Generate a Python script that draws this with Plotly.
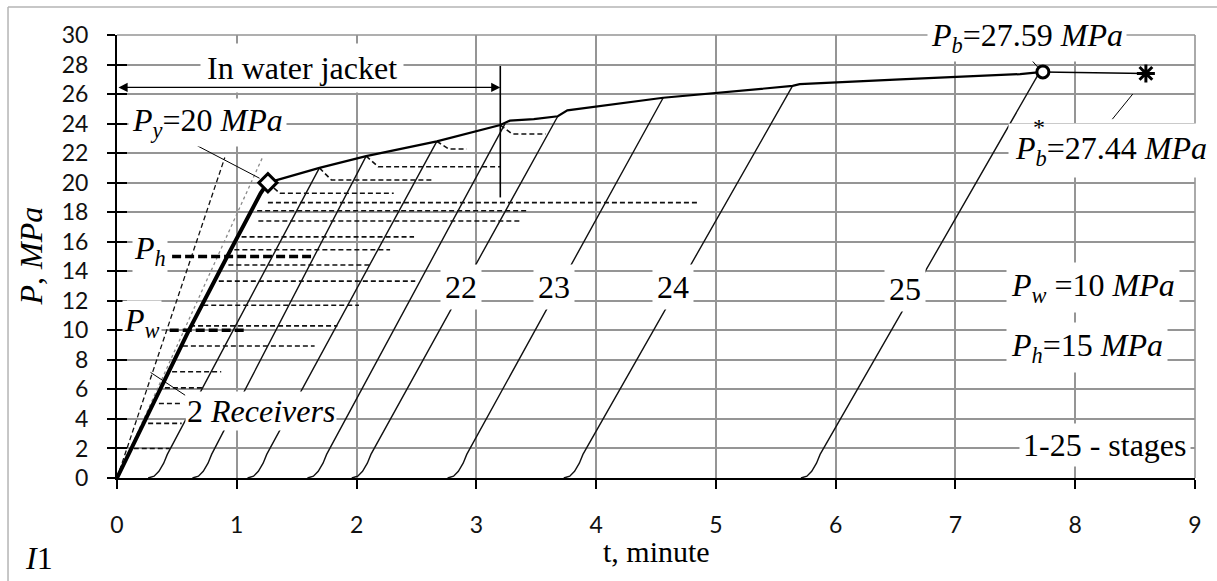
import plotly.graph_objects as go

# ---------------- data ----------------
# thick "2 receivers" line from origin to the yield point
thick_t = [0, 0.39, 0.60, 0.92, 1.20, 1.26]
thick_P = [0, 6.6, 10.0, 15.0, 19.3, 20.0]

# steep dashed and grey dotted guide lines from the origin
steep_t = [0, 0.90]
steep_P = [0, 21.7]
dotted_t = [0, 1.22]
dotted_P = [0, 21.8]

# upper envelope (stage tops) from P_y to P_b
env_t = [1.26, 1.69, 2.08, 2.67, 3.20, 3.28, 3.48, 3.68, 3.76, 4.56, 5.64, 5.70, 6.54, 7.54, 7.73]
env_P = [20.0, 21.0, 21.8, 22.8, 23.9, 24.2, 24.3, 24.5, 24.9, 25.75, 26.55, 26.67, 27.0, 27.35, 27.5]

# tail P_b -> P_b*
tail_t = [7.73, 8.59]
tail_P = [27.5, 27.4]

# stage curves: foot time at P=0 and end point on the envelope
stage_t0 = [0.26, 0.63, 1.09, 1.59, 1.96, 2.76, 3.73, 5.71]
stage_t1 = [1.69, 2.08, 2.67, 3.24, 3.68, 4.56, 5.64, 7.70]
stage_P1 = [21.0, 21.8, 22.8, 24.0, 24.5, 25.75, 26.55, 27.45]
# rounded foot of every stage curve (offsets)
foot_dt = [0, 0.05, 0.09, 0.13, 0.16]
foot_dP = [0, 0.12, 0.45, 1.0, 1.6]

stage_labels = ["22", "23", "24", "25"]
stage_label_t = [2.87, 3.65, 4.64, 6.58]
stage_label_P = [12.93, 12.93, 12.93, 12.8]

# thin dashed hold lines: level, start, end, start pressure (knee from the envelope)
dash_P = [2.0, 3.7, 5.05, 6.1, 7.2, 8.94, 10.3, 11.7, 13.33, 14.42, 15.46, 16.33,
          17.4, 18.1, 18.65, 19.28, 20.18, 21.08, 22.28, 23.3]
dash_t0 = [0.14, 0.26, 0.35, 0.40, 0.46, 0.55, 0.61, 0.72, 0.85, 0.93, 0.98, 1.04,
           1.18, 1.17, 1.26, 1.26, 1.69, 2.08, 2.67, 3.20]
dash_t1 = [0.44, 0.54, 0.54, 0.71, 0.87, 1.65, 1.84, 2.02, 2.49, 2.11, 2.28, 2.48,
           3.38, 3.44, 4.85, 2.31, 2.64, 3.20, 2.92, 3.58]
dash_P0 = [2.0, 3.7, 5.05, 6.1, 7.2, 8.94, 10.3, 11.7, 13.33, 14.42, 15.46, 16.33,
           17.4, 18.1, 18.65, 20.0, 21.0, 21.8, 22.8, 23.9]

# thick dashed P_w and P_h markers
Pw = 10.0
pw_t = [0.44, 1.07]
Ph = 15.0
ph_t = [0.46, 1.62]

# key points
Py_pt = (1.26, 20.0)
Pb_pt = (7.73, 27.5)
Pbs_pt = (8.59, 27.4)

# water jacket span
jacket_t = [0.0, 3.2]
jacket_P = 26.45
jacket_bar_P = [19.0, 27.9]

x_ticks = list(range(0, 10))
y_ticks = list(range(0, 31, 2))

# ---------------- figure ----------------
SERIF = "Liberation Serif"
fig = go.Figure()

def line(x, y, width=1.2, color="black", dash=None, yaxis="y"):
    fig.add_trace(go.Scatter(x=x, y=y, mode="lines", yaxis=yaxis,
                             line=dict(color=color, width=width, dash=dash),
                             hoverinfo="skip", showlegend=False))

# guide lines
line(steep_t, steep_P, 1.3, "#111", "5px,3px")
line(dotted_t, dotted_P, 1.3, "#8a8a8a", "dot")

# dashed hold lines
for P, a, b, p0 in zip(dash_P, dash_t0, dash_t1, dash_P0):
    if p0 != P:
        xs = [a, a + 0.1, b]
        ys = [p0, P, P]
    else:
        xs = [a, b]
        ys = [P, P]
    line(xs, ys, 1.6, "#111", "5px,3px")

# thick dashed markers
line(pw_t, [Pw, Pw], 3.5, "black", "9px,4px")
line(ph_t, [Ph, Ph], 3.5, "black", "9px,4px")

# stage curves
for a, b, pe in zip(stage_t0, stage_t1, stage_P1):
    xs = [a + d for d in foot_dt] + [b]
    ys = list(foot_dP) + [pe]
    line(xs, ys, 1.4, "#111")

# envelope and thick line
line(env_t, env_P, 2.2, "black")
line(tail_t, tail_P, 1.5, "black")
line(thick_t, thick_P, 4.0, "black")

# water jacket bar
line([jacket_t[1], jacket_t[1]], jacket_bar_P, 1.6, "black")

# leader lines
line([0.67, 1.19], [22.5, 20.3], 1.0)
line([0.28, 0.57], [7.15, 5.6], 1.0)
line([7.57, 7.69], [28.9, 27.8], 1.0)
line([8.48, 8.31], [26.0, 24.3], 1.0)

# markers
fig.add_trace(go.Scatter(x=[Py_pt[0]], y=[Py_pt[1]], mode="markers", showlegend=False,
                         hoverinfo="skip",
                         marker=dict(symbol="diamond", size=14, color="white",
                                     line=dict(color="black", width=3))))
fig.add_trace(go.Scatter(x=[Pb_pt[0]], y=[Pb_pt[1]], mode="markers", showlegend=False,
                         hoverinfo="skip",
                         marker=dict(symbol="circle", size=12, color="white",
                                     line=dict(color="black", width=3))))
fig.add_trace(go.Scatter(x=[Pbs_pt[0]], y=[Pbs_pt[1]], mode="markers", showlegend=False,
                         hoverinfo="skip",
                         marker=dict(symbol="asterisk-open", size=15, color="black",
                                     line=dict(color="black", width=3))))

# invisible trace for the inner-tick axis
fig.add_trace(go.Scatter(x=[0], y=[0], yaxis="y2", mode="markers", showlegend=False,
                         hoverinfo="skip", marker=dict(opacity=0)))

ann = []

def label(text, x, y, size=32, xanchor="left", yanchor="middle", pad=3, bg="white",
          xref="x", yref="y", angle=0):
    ann.append(dict(text=text, x=x, y=y, xref=xref, yref=yref, showarrow=False,
                    xanchor=xanchor, yanchor=yanchor, textangle=angle,
                    font=dict(family=SERIF, size=size, color="black"),
                    bgcolor=bg, borderpad=pad))

label("In water jacket", 1.545, 27.75, xanchor="center", pad=6)
label("<i>P</i><sub><i>y</i></sub>=20 <i>MPa</i>", 0.09, 24.1)
label("<i>P</i><sub><i>h</i></sub>", 0.125, 15.4, pad=1)
label("<i>P</i><sub><i>w</i></sub>", 0.04, 10.5, pad=1)
label("2 <i>Receivers</i>", 0.57, 4.53, pad=1)
for s, t, p in zip(stage_labels, stage_label_t, stage_label_P):
    label(s, t, p, xanchor="center", pad=4)
label("<i>P</i><sub><i>w</i></sub> =10 <i>MPa</i>", 7.42, 12.9, pad=4)
label("<i>P</i><sub><i>h</i></sub>=15 <i>MPa</i>", 7.42, 8.85, pad=4)
label("1-25 - stages", 7.53, 2.23, pad=3)
label("<i>P</i><sub><i>b</i></sub>=27.59 <i>MPa</i>", 6.76, 29.85, pad=3)
label("<i>P</i><sub><i>b</i></sub>=27.44 <i>MPa</i>", 7.44, 22.2, pad=6)
label("*", 7.70, 23.75, size=24, xanchor="center", pad=0, bg="rgba(0,0,0,0)")

# axis titles and panel tag (paper coordinates)
label("<i>P</i>, <i>MPa</i>", -0.0807, 0.5, size=32, xanchor="center", pad=0,
      bg="rgba(0,0,0,0)", xref="paper", yref="paper", angle=-90)
label("t, minute", 0.5, -0.166, size=30, xanchor="center", pad=0,
      bg="rgba(0,0,0,0)", xref="paper", yref="paper")
label("<i>I</i>1", -0.0724, -0.1806, size=32, xanchor="center", pad=0,
      bg="rgba(0,0,0,0)", xref="paper", yref="paper")

# arrow "In water jacket"
ann.append(dict(x=jacket_t[1], y=jacket_P, ax=jacket_t[0], ay=jacket_P,
                xref="x", yref="y", axref="x", ayref="y", text="",
                showarrow=True, arrowhead=2, arrowside="end+start", arrowsize=1.3,
                arrowwidth=1.4, arrowcolor="black", standoff=0, startstandoff=0))

GRID = "#959595"
fig.update_layout(
    width=1217, height=581,
    margin=dict(l=117, r=22, t=35, b=103),
    paper_bgcolor="white", plot_bgcolor="white",
    showlegend=False,
    annotations=ann,
    xaxis=dict(range=[0, 9], tickvals=x_ticks, showgrid=True, gridcolor=GRID,
               gridwidth=1.6, zeroline=False, showline=True, linecolor="black",
               linewidth=2, ticks="outside", ticklen=9, tickwidth=1.5,
               tickcolor="black", ticklabelstandoff=16,
               tickfont=dict(family="Lato", size=23, color="#111")),
    yaxis=dict(range=[0, 30], tickvals=y_ticks, showgrid=True, gridcolor=GRID,
               gridwidth=1.6, zeroline=False, showline=True, linecolor="black",
               linewidth=2, ticks="outside", ticklen=8, tickwidth=1.5,
               tickcolor="black", ticklabelstandoff=14,
               tickfont=dict(family="Lato", size=23, color="#111")),
    yaxis2=dict(range=[0, 30], tickvals=y_ticks, overlaying="y", side="left",
                anchor="x", showgrid=False, zeroline=False, showline=False,
                ticks="inside", ticklen=10, tickwidth=1.5, tickcolor="black",
                showticklabels=False),
    shapes=[
        dict(type="line", xref="paper", yref="paper", x0=0, x1=1, y0=1, y1=1,
             line=dict(color=GRID, width=1.6), layer="below"),
        dict(type="line", xref="paper", yref="paper", x0=1, x1=1, y0=0, y1=1,
             line=dict(color=GRID, width=1.6), layer="below"),
        dict(type="line", xref="paper", yref="paper", x0=-0.1011, x1=-0.1011,
             y0=-0.5, y1=1.0632, line=dict(color="#b5b5b5", width=1.5),
             layer="below"),
        dict(type="line", xref="paper", yref="paper", x0=-0.1011, x1=1.2,
             y0=1.0632, y1=1.0632, line=dict(color="#b5b5b5", width=1.5),
             layer="below"),
    ],
)

fig.write_html("out.html")
